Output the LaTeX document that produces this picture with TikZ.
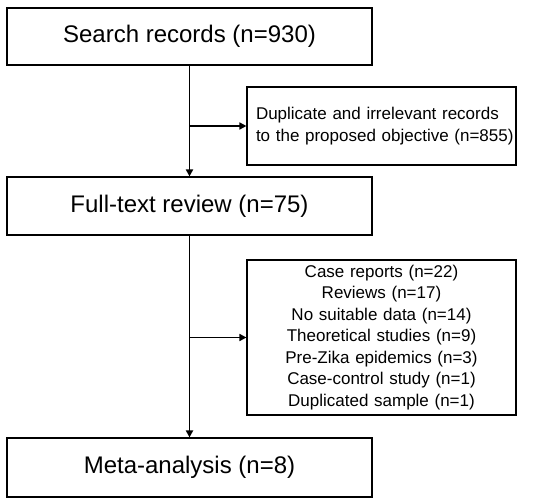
\documentclass[tikz,border=0pt]{standalone}
\usepackage{fontspec}
\setmainfont{Liberation Sans}
\usetikzlibrary{arrows.meta}
\begin{document}
\begin{tikzpicture}[x=1pt,y=1pt,
  bigbox/.style={draw, line width=1.1pt, minimum width=365pt, inner sep=0pt, font=\fontsize{24}{29}\selectfont},
  sidebox/.style={draw, line width=1.1pt, inner xsep=9pt, inner ysep=0pt, text width=251pt, font=\fontsize{17}{21.5}\selectfont},
  flow/.style={line width=1.8pt, -{Triangle[length=7pt,width=7pt]}},
  branch/.style={line width=1.6pt, -{Triangle[length=7pt,width=7pt]}}]
\useasboundingbox (0,0) rectangle (550,-503);
\fill[white] (0,0) rectangle (550,-503);
\node[bigbox, minimum height=57pt] (search) at (189.5,-36.5) {Search records (n=930)};
\node[sidebox, minimum height=78pt, align=left] (dup) at (381.5,-126) {\mbox{Duplicate and irrelevant records}\\\mbox{to the proposed objective (n=855)}};
\node[bigbox, minimum height=58pt] (full) at (189.5,-206) {Full-text review (n=75)};
\node[sidebox, minimum height=155pt, align=center] (excl) at (381.5,-337.5) {Case reports (n=22)\\Reviews (n=17)\\No suitable data (n=14)\\Theoretical studies (n=9)\\Pre-Zika epidemics (n=3)\\Case-control study (n=1)\\Duplicated sample (n=1)};
\node[bigbox, minimum height=59pt] (meta) at (189.5,-467.5) {Meta-analysis (n=8)};
\coordinate (b1) at (search.south |- dup.west);
\coordinate (b2) at (full.south |- excl.west);
\draw[flow] (search.south) -- (full.north);
\draw[branch] (b1) -- (dup.west);
\draw[flow] (full.south) -- (meta.north);
\draw[branch] (b2) -- (excl.west);
\end{tikzpicture}
\end{document}
